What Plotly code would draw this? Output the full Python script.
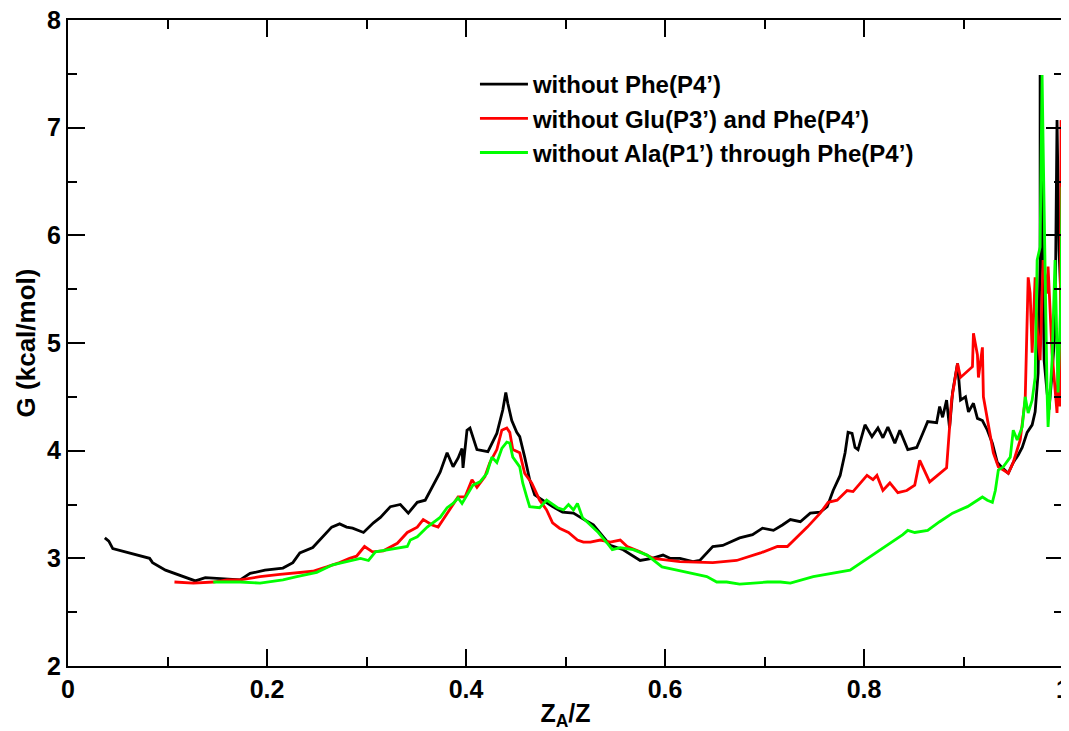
import plotly.graph_objects as go

# without Phe(P4')
black_x = [0.037, 0.041, 0.045, 0.082, 0.085, 0.098, 0.128, 0.138, 0.173, 0.183, 0.198, 0.216, 0.226, 0.233,
           0.246, 0.265, 0.273, 0.280, 0.286, 0.297, 0.307, 0.314, 0.324, 0.334, 0.342, 0.351, 0.359, 0.364,
           0.371, 0.374, 0.381, 0.387, 0.392, 0.396, 0.397, 0.401, 0.404, 0.409, 0.411, 0.422, 0.431, 0.437,
           0.440, 0.442, 0.446, 0.451, 0.454, 0.459, 0.464, 0.469, 0.477, 0.487, 0.497, 0.508, 0.515, 0.528,
           0.538, 0.545, 0.558, 0.575, 0.587, 0.598, 0.605, 0.615, 0.628, 0.635, 0.648, 0.658, 0.675, 0.688,
           0.698, 0.709, 0.718, 0.726, 0.736, 0.746, 0.756, 0.763, 0.769, 0.776, 0.781, 0.784, 0.788, 0.791,
           0.794, 0.801, 0.808, 0.814, 0.819, 0.824, 0.831, 0.836, 0.844, 0.853, 0.859, 0.864, 0.873, 0.876,
           0.879, 0.883, 0.886, 0.889, 0.894, 0.897, 0.902, 0.905, 0.910, 0.914, 0.919, 0.924, 0.929, 0.934,
           0.939, 0.945, 0.950, 0.955, 0.959, 0.964, 0.969, 0.972, 0.975, 0.977, 0.977, 0.978, 0.979, 0.981,
           0.984, 0.986, 0.989, 0.992, 0.994, 0.996, 0.998]
black_y = [3.19, 3.16, 3.09, 3.00, 2.96, 2.89, 2.79, 2.82, 2.80, 2.86, 2.89, 2.91, 2.96, 3.05,
           3.10, 3.29, 3.32, 3.29, 3.28, 3.24, 3.33, 3.38, 3.48, 3.50, 3.42, 3.52, 3.54, 3.63,
           3.76, 3.80, 3.98, 3.85, 3.93, 4.02, 3.84, 4.19, 4.21, 4.08, 4.01, 3.99, 4.16, 4.38,
           4.54, 4.44, 4.28, 4.17, 4.13, 3.94, 3.73, 3.59, 3.54, 3.48, 3.43, 3.42, 3.38, 3.31,
           3.20, 3.12, 3.08, 2.98, 3.00, 3.03, 3.00, 3.00, 2.97, 2.98, 3.11, 3.12, 3.19, 3.22,
           3.28, 3.26, 3.31, 3.36, 3.34, 3.42, 3.43, 3.48, 3.63, 3.77, 3.98, 4.17, 4.16, 4.03,
           4.01, 4.24, 4.13, 4.21, 4.12, 4.22, 4.07, 4.19, 4.01, 4.03, 4.16, 4.27, 4.26, 4.41,
           4.31, 4.47, 4.21, 4.54, 4.81, 4.47, 4.50, 4.36, 4.44, 4.30, 4.28, 4.19, 4.07, 3.89,
           3.84, 3.79, 3.89, 3.96, 4.03, 4.17, 4.24, 4.36, 4.72, 5.77, 7.49, 6.84, 5.86, 4.84,
           4.54, 4.38, 4.72, 5.12, 7.07, 5.86, 5.40]

# without Glu(P3') and Phe(P4')
red_x = [0.107, 0.126, 0.146, 0.160, 0.173, 0.193, 0.213, 0.233, 0.246, 0.260, 0.273, 0.283, 0.290, 0.298,
         0.306, 0.317, 0.331, 0.341, 0.351, 0.357, 0.366, 0.372, 0.381, 0.387, 0.392, 0.399, 0.406, 0.411,
         0.419, 0.424, 0.431, 0.436, 0.441, 0.444, 0.447, 0.454, 0.459, 0.466, 0.474, 0.481, 0.487, 0.494,
         0.503, 0.512, 0.518, 0.525, 0.535, 0.545, 0.555, 0.562, 0.575, 0.588, 0.615, 0.648, 0.672, 0.696,
         0.713, 0.723, 0.743, 0.756, 0.764, 0.773, 0.783, 0.789, 0.796, 0.803, 0.809, 0.813, 0.819, 0.826,
         0.834, 0.843, 0.851, 0.856, 0.866, 0.883, 0.888, 0.894, 0.897, 0.909, 0.910, 0.914, 0.915, 0.919,
         0.920, 0.924, 0.930, 0.935, 0.940, 0.945, 0.950, 0.957, 0.962, 0.965, 0.967, 0.969, 0.972, 0.974,
         0.977, 0.980, 0.984, 0.985, 0.989, 0.992, 0.994, 0.995, 0.997, 0.998, 0.999]
red_y = [2.78, 2.77, 2.78, 2.80, 2.80, 2.83, 2.85, 2.87, 2.88, 2.92, 2.96, 3.00, 3.02, 3.11,
         3.06, 3.07, 3.14, 3.24, 3.29, 3.36, 3.31, 3.29, 3.42, 3.50, 3.57, 3.57, 3.73, 3.66,
         3.76, 3.89, 4.01, 4.19, 4.21, 4.17, 4.01, 3.98, 3.79, 3.70, 3.54, 3.45, 3.33, 3.28,
         3.24, 3.17, 3.15, 3.15, 3.17, 3.15, 3.17, 3.11, 3.06, 3.00, 2.97, 2.96, 2.98, 3.05,
         3.11, 3.11, 3.29, 3.42, 3.52, 3.54, 3.63, 3.62, 3.70, 3.77, 3.73, 3.77, 3.63, 3.70,
         3.61, 3.63, 3.68, 3.91, 3.71, 3.84, 4.47, 4.81, 4.68, 4.78, 5.09, 4.89, 4.68, 4.96,
         4.50, 4.28, 3.98, 3.85, 3.82, 3.79, 3.89, 4.10, 4.47, 5.61, 5.46, 4.91, 5.61, 5.15,
         4.84, 5.77, 5.46, 5.71, 4.91, 4.54, 4.35, 4.78, 4.41, 7.07, 5.46]

# without Ala(P1') through Phe(P4')
green_x = [0.146, 0.173, 0.193, 0.216, 0.230, 0.250, 0.266, 0.283, 0.294, 0.302, 0.309, 0.341, 0.344, 0.351,
           0.361, 0.374, 0.381, 0.387, 0.392, 0.396, 0.402, 0.407, 0.414, 0.421, 0.426, 0.431, 0.436, 0.441,
           0.444, 0.447, 0.454, 0.457, 0.461, 0.464, 0.474, 0.481, 0.492, 0.498, 0.503, 0.508, 0.512, 0.517,
           0.525, 0.533, 0.542, 0.547, 0.555, 0.568, 0.582, 0.597, 0.612, 0.628, 0.642, 0.652, 0.662, 0.675,
           0.688, 0.703, 0.716, 0.726, 0.749, 0.786, 0.839, 0.844, 0.851, 0.864, 0.876, 0.889, 0.904, 0.914,
           0.919, 0.924, 0.929, 0.932, 0.935, 0.940, 0.947, 0.950, 0.954, 0.959, 0.962, 0.965, 0.969, 0.972,
           0.974, 0.977, 0.978, 0.979, 0.980, 0.982, 0.984, 0.985, 0.989, 0.992, 0.994, 0.995, 0.998, 0.999]
green_y = [2.78, 2.78, 2.77, 2.80, 2.83, 2.87, 2.94, 2.98, 3.00, 2.98, 3.06, 3.11, 3.17, 3.20,
           3.29, 3.38, 3.47, 3.51, 3.56, 3.51, 3.61, 3.68, 3.71, 3.79, 3.94, 3.89, 4.02, 4.08,
           4.07, 3.94, 3.85, 3.70, 3.57, 3.48, 3.47, 3.54, 3.47, 3.45, 3.50, 3.45, 3.51, 3.38,
           3.31, 3.24, 3.14, 3.08, 3.10, 3.08, 3.03, 2.92, 2.89, 2.86, 2.83, 2.78, 2.78, 2.76,
           2.77, 2.78, 2.78, 2.77, 2.83, 2.89, 3.22, 3.26, 3.24, 3.26, 3.34, 3.42, 3.48, 3.54,
           3.57, 3.54, 3.52, 3.63, 3.82, 3.85, 3.94, 4.19, 4.10, 4.22, 4.50, 4.35, 4.47, 4.68,
           5.77, 5.89, 6.86, 7.49, 6.86, 5.46, 4.54, 4.22, 4.84, 5.77, 4.91, 4.54, 5.46, 6.45]

series_names = ["without Phe(P4\u2019)",
                "without Glu(P3\u2019) and Phe(P4\u2019)",
                "without Ala(P1\u2019) through Phe(P4\u2019)"]
series_colors = ["#000000", "#ff0000", "#00ff00"]

x_ticks = [0, 0.2, 0.4, 0.6, 0.8, 1]
x_tick_labels = ["0", "0.2", "0.4", "0.6", "0.8", "1"]
y_ticks = [2, 3, 4, 5, 6, 7, 8]

FONT = "Liberation Sans, Arial, Helvetica, sans-serif"

fig = go.Figure()
for i, (xs, ys) in enumerate([(black_x, black_y), (red_x, red_y), (green_x, green_y)]):
    fig.add_trace(go.Scatter(
        x=xs, y=ys, mode="lines", name=series_names[i],
        line=dict(color=series_colors[i], width=2.8),
        legendgroup=f"g{i}",
    ))

axis_common = dict(
    showgrid=False, zeroline=False, showline=True, linecolor="black", linewidth=2,
    mirror="allticks", ticks="inside", ticklen=17, tickwidth=1.5, tickcolor="black",
    tickfont=dict(family=FONT, size=25, color="black", weight="bold"),
    automargin=False, ticklabeloverflow="allow",
)

# the page body has an 8px margin, so the figure is sized to fit the window
fig.update_layout(
    width=1061, height=723,
    paper_bgcolor="white", plot_bgcolor="white",
    margin=dict(l=60, r=6, t=12, b=65),
    showlegend=True,
    legend=dict(
        x=0.409, y=0.935, xanchor="left", yanchor="top",
        bgcolor="rgba(0,0,0,0)", borderwidth=0,
        font=dict(family=FONT, size=24, color="black", weight="bold"),
        tracegroupgap=0, traceorder="grouped", itemwidth=48,
    ),
    xaxis=dict(
        range=[0, 1], tickvals=x_ticks, ticktext=x_tick_labels,
        minor=dict(dtick=0.1, ticks="inside", ticklen=9, tickwidth=1.5, tickcolor="black"),
        title=dict(text="Z<sub>A</sub>/Z", standoff=2,
                   font=dict(family=FONT, size=25, color="black", weight="bold")),
        **axis_common,
    ),
    yaxis=dict(
        range=[2, 8], tickvals=y_ticks,
        minor=dict(dtick=0.5, ticks="inside", ticklen=9, tickwidth=1.5, tickcolor="black"),
        title=dict(text="G (kcal/mol)", standoff=4,
                   font=dict(family=FONT, size=26, color="black", weight="bold")),
        **axis_common,
    ),
)

fig.write_html("out.html")
